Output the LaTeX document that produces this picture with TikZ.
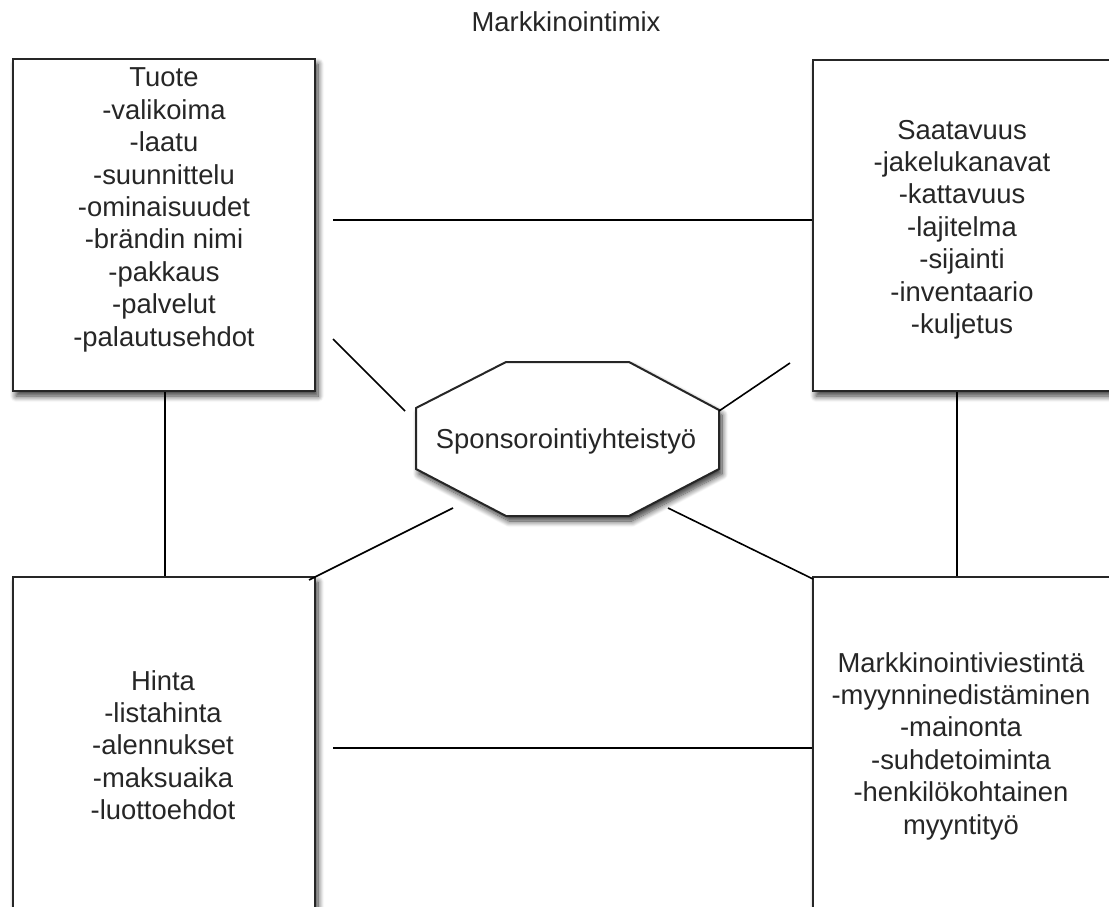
\documentclass[tikz,border=0pt]{standalone}
\usepackage{fontspec}
\setmainfont{Liberation Sans}
\usetikzlibrary{shadows.blur}

\begin{document}
\begin{tikzpicture}[x=1pt,y=-1pt,
  every node/.style={font=\fontsize{27.4}{32.4}\selectfont, text=black!85, align=center, inner sep=0pt},
  softshadow/.style={blur shadow={shadow xshift=3pt, shadow yshift=-5pt, shadow blur radius=6pt, shadow blur steps=10, shadow opacity=80}},
  box/.style={draw=black!85, line width=2pt, fill=white, softshadow},
  link/.style={draw=black, line width=1.6pt}]
\useasboundingbox (0,0) rectangle (1109,907);

\begin{scope}
  \clip (0,0) rectangle (1109,907);
  % the four mix boxes
  \node[box, minimum width=302pt, minimum height=332pt] (tuote) at (164,225) {};
  \node[box, minimum width=300pt, minimum height=331pt] (saat)  at (963,225.5) {};
  \node[box, minimum width=302pt, minimum height=363pt] (hinta) at (164,758.5) {};
  \node[box, minimum width=300pt, minimum height=363pt] (markk) at (963,758.5) {};

  % central octagon
  \draw[draw=black!85, line width=2pt, fill=white, softshadow]
    (506,362) -- (629,362) -- (719,410) -- (719,469) -- (629,516)
    -- (506,516) -- (416,469) -- (416,408) -- cycle;
\end{scope}

% titles and contents
\node (title) at (566,22) {Markkinointimix};
\node[anchor=base] (spons) at (566,448) {Sponsorointiyhteistyö};

\node (tuoteT) at (164,210) {Tuote\\-valikoima\\-laatu\\-suunnittelu\\-ominaisuudet\\-brändin nimi\\-pakkaus\\-palvelut\\-palautusehdot};
\node (saatT) at (962,229.5) {Saatavuus\\-jakelukanavat\\-kattavuus\\-lajitelma\\-sijainti\\-inventaario\\-kuljetus};
\node (hintaT) at (163,745) {Hinta\\-listahinta\\-alennukset\\-maksuaika\\-luottoehdot};
\node (markkT) at (961,746) {Markkinointiviestintä\\-myynninedistäminen\\-mainonta\\-suhdetoiminta\\-henkilökohtainen\\myyntityö};

% connector ends
\coordinate (tuoteR) at (333,220);
\coordinate (hintaR) at (333,748);
\coordinate (o1) at (405,411);
\coordinate (t1) at (333,339);
\coordinate (o2) at (719,411);
\coordinate (s2) at (790,363);
\coordinate (o3) at (453,508);
\coordinate (h3) at (309,580);
\coordinate (o4) at (668,508);
\coordinate (m4) at (813,579);

% connectors
\draw[link] (tuoteR) -- (saat.west |- tuoteR);
\draw[link] (hintaR) -- (markk.west |- hintaR);
\draw[link] (tuote.south -| 165,0) -- (hinta.north -| 165,0);
\draw[link] (saat.south -| 957,0) -- (markk.north -| 957,0);
\draw[link] (t1) -- (o1);
\draw[link] (o2) -- (s2);
\draw[link] (o3) -- (h3);
\draw[link] (o4) -- (m4);
\end{tikzpicture}
\end{document}
